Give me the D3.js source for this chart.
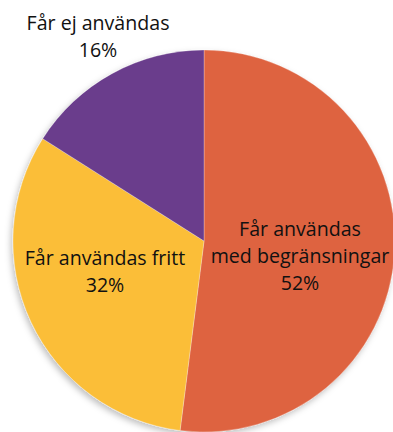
<!DOCTYPE html>
<html>
<head>
<meta charset="utf-8">
<script src="https://cdn.jsdelivr.net/npm/d3@7"></script>
<style>
  html, body { margin: 0; padding: 0; background: #fff; }
  svg { display: block; }
  text { font-family: "Open Sans", "Noto Sans", sans-serif; fill: #111111; }
</style>
</head>
<body>
<svg id="chart" width="393" height="432"></svg>
<script>
// Share of material by permitted use
const categories = ["Får användas med begränsningar", "Får användas fritt", "Får ej användas"];
const values = [52, 32, 16];
const colors = ["#de6341", "#fbbe37", "#6a3d8c"];
const labelLines = [
  ["Får användas", "med begränsningar", "52%"],
  ["Får användas fritt", "32%"],
  ["Får ej användas", "16%"]
];

const width = 393, height = 432;
const cx = 204, cy = 241, radius = 191;

const svg = d3.select("#chart");

const defs = svg.append("defs");
const shadow = defs.append("filter").attr("id", "shadow")
  .attr("x", "-10%").attr("y", "-10%").attr("width", "120%").attr("height", "120%");
shadow.append("feDropShadow")
  .attr("dx", -2).attr("dy", 3).attr("stdDeviation", 3)
  .attr("flood-color", "#000").attr("flood-opacity", 0.25);

const pie = d3.pie().value(d => d).sort(null);
const arc = d3.arc().innerRadius(0).outerRadius(radius);

const g = svg.append("g").attr("transform", `translate(${cx},${cy})`);

g.append("g").attr("filter", "url(#shadow)")
  .selectAll("path")
  .data(pie(values))
  .join("path")
  .attr("d", arc)
  .attr("fill", (d, i) => colors[i])
  .attr("stroke", "#ffffff")
  .attr("stroke-opacity", 0.35)
  .attr("stroke-width", 0.8);

// Label anchors (centre x, first baseline y) relative to the pie centre
const labelPos = [
  { x: 96, y: -5, lh: 26.8 },
  { x: -99, y: 24, lh: 27 },
  { x: -106, y: -211, lh: 26.8 }
];

const fontSize = 19.6;
labelLines.forEach((lines, i) => {
  const t = g.append("text")
    .attr("text-anchor", "middle")
    .attr("font-size", fontSize)
    .attr("x", labelPos[i].x)
    .attr("y", labelPos[i].y);
  lines.forEach((line, j) => {
    t.append("tspan")
      .attr("x", labelPos[i].x)
      .attr("dy", j === 0 ? 0 : labelPos[i].lh)
      .text(line);
  });
});
</script>
</body>
</html>
